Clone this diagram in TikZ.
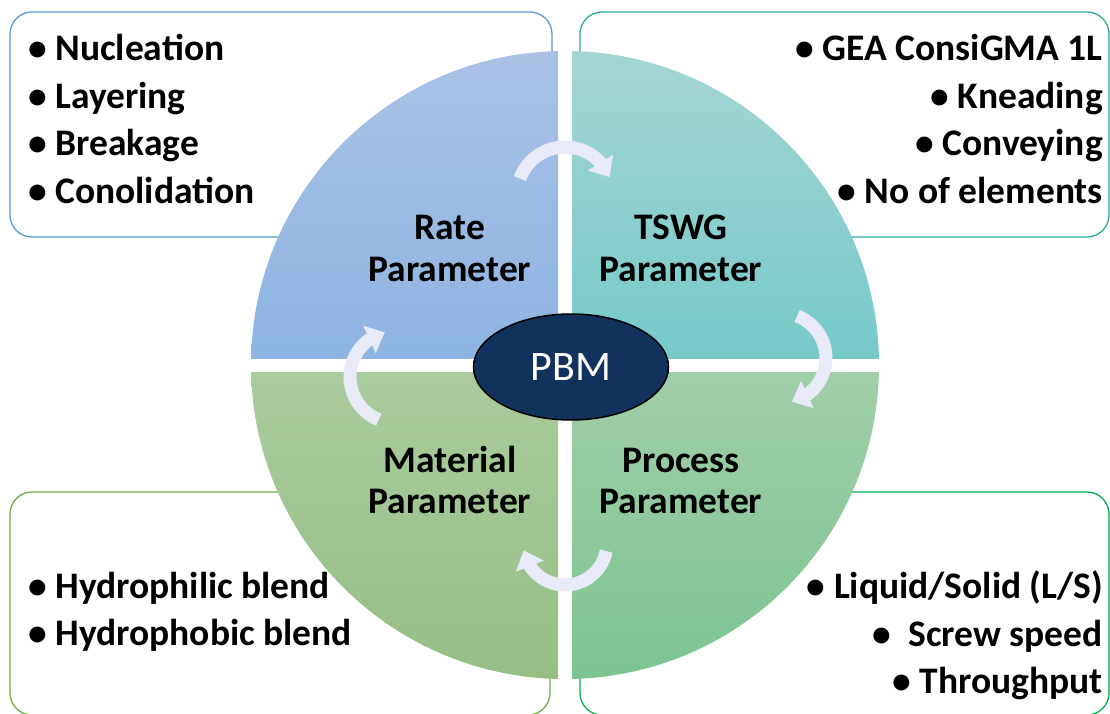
\documentclass[tikz,border=0pt]{standalone}
\usepackage{fontspec}
\setmainfont{Carlito}
\usetikzlibrary{shapes.geometric,arrows.meta,bending}
\definecolor{tlTop}{RGB}{170,193,229}
\definecolor{tlBot}{RGB}{141,180,226}
\definecolor{trTop}{RGB}{164,214,210}
\definecolor{trBot}{RGB}{118,201,202}
\definecolor{blTop}{RGB}{170,203,158}
\definecolor{blBot}{RGB}{150,190,132}
\definecolor{brTop}{RGB}{160,206,168}
\definecolor{brBot}{RGB}{124,196,146}
\definecolor{arrowcol}{RGB}{232,234,247}
\definecolor{navy}{RGB}{18,50,94}
\definecolor{bTL}{RGB}{91,155,213}
\definecolor{bTR}{RGB}{40,172,158}
\definecolor{bBL}{RGB}{112,173,71}
\definecolor{bBR}{RGB}{0,176,80}
\begin{document}
\begin{tikzpicture}[x=1pt,y=1pt,
  listbox/.style={rounded corners=22pt, line width=1.3pt, fill=white},
  item/.style={font=\fontsize{37.5}{45}\selectfont\bfseries, inner sep=0pt},
  qlab/.style={font=\fontsize{37.5}{45}\selectfont\bfseries, inner sep=0pt, anchor=base},
  cyc/.style={draw=arrowcol, line width=13pt, -{Triangle[width=29pt,length=17pt]}}
]
\useasboundingbox (0,0) rectangle (1110,713);
\fill[white] (0,0) rectangle (1110,713);

% list boxes
\draw[listbox, draw=bTL] (10,476) rectangle (552,701);
\draw[listbox, draw=bTR] (580,476) rectangle (1109,701);
\draw[listbox, draw=bBL] (10,-2) rectangle (550,221);
\draw[listbox, draw=bBR] (580,-2) rectangle (1109,221);

% quadrants
\begin{scope}
  \clip (565,348) circle (314);
  \shade[top color=tlTop, bottom color=tlBot] (250,355) rectangle (558,663);
  \shade[top color=trTop, bottom color=trBot] (572,355) rectangle (880,663);
  \shade[top color=blTop, bottom color=blBot] (250,33) rectangle (558,341);
  \shade[top color=brTop, bottom color=brBot] (572,33) rectangle (880,341);
\end{scope}

% cycle arrows
\draw[cyc] ([shift={(160:48)}]565,518) arc[start angle=160, end angle=22, radius=48];
\draw[cyc] ([shift={(69:45)}]781,355) arc[start angle=69, end angle=-76, radius=45];
\draw[cyc] ([shift={(-11:42)}]565,170) arc[start angle=-11, end angle=-170, radius=42];
\draw[cyc] ([shift={(248:46)}]396,336) arc[start angle=248, end angle=104, radius=46];

% centre
\node[ellipse, draw=black, line width=1.5pt, fill=navy, minimum width=195pt,
      minimum height=106pt, inner sep=0pt, text=white,
      font=\fontsize{42}{50}\selectfont] (pbm) at (571,346) {PBM};

% quadrant labels
\node[qlab] (rate1) at (450,473) {Rate};
\node[qlab] (rate2) at (450,431) {Parameter};
\node[qlab] (tswg1) at (681,473) {TSWG};
\node[qlab] (tswg2) at (681,431) {Parameter};
\node[qlab] (mat1) at (450,241) {Material};
\node[qlab] (mat2) at (450,200) {Parameter};
\node[qlab] (proc1) at (681,241) {Process};
\node[qlab] (proc2) at (681,200) {Parameter};

% lists
\node[item, anchor=base west] (tl1) at (28,652) {• Nucleation};
\node[item, anchor=base west] (tl2) at (28,604) {• Layering};
\node[item, anchor=base west] (tl3) at (28,557) {• Breakage};
\node[item, anchor=base west] (tl4) at (28,509) {• Conolidation};

\node[item, anchor=base east] (tr1) at (1103,652) {• GEA ConsiGMA 1L};
\node[item, anchor=base east] (tr2) at (1103,604) {• Kneading};
\node[item, anchor=base east] (tr3) at (1103,557) {• Conveying};
\node[item, anchor=base east] (tr4) at (1103,509) {• No of elements};

\node[item, anchor=base west] (bl1) at (28,115) {• Hydrophilic blend};
\node[item, anchor=base west] (bl2) at (28,68) {• Hydrophobic blend};

\node[item, anchor=base east] (br1) at (1103,115) {• Liquid/Solid (L/S)};
\node[item, anchor=base east] (br2) at (1103,67) {•~~Screw speed};
\node[item, anchor=base east] (br3) at (1103,20) {• Throughput};
\end{tikzpicture}
\end{document}
